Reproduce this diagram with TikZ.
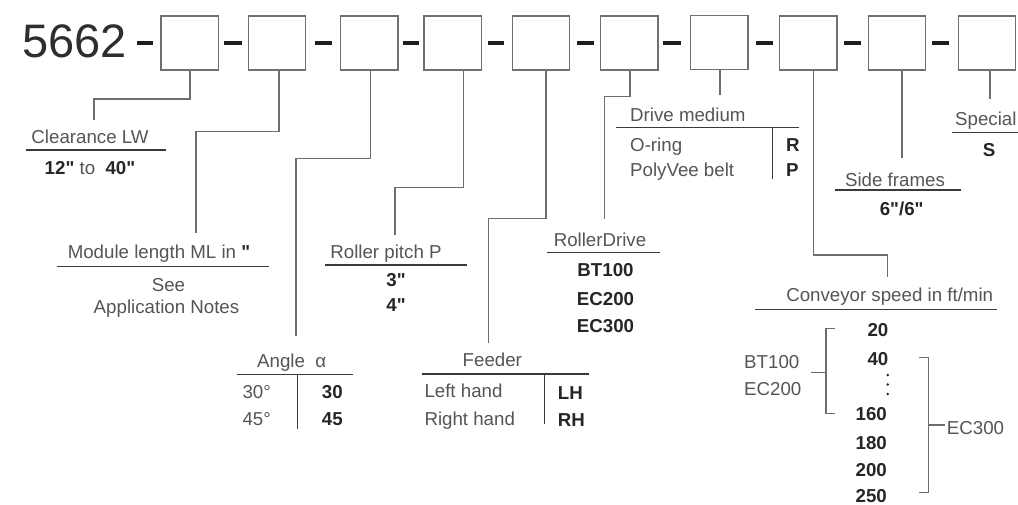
\documentclass[tikz,border=0pt]{standalone}
\usepackage{fontspec}
\setmainfont{Liberation Sans}[Ligatures=TeXOff]
\definecolor{labelgray}{HTML}{555555}
\definecolor{valgray}{HTML}{262626}
\definecolor{boxgray}{HTML}{707070}
\definecolor{linegray}{HTML}{6E6E6E}
\definecolor{rulegray}{HTML}{3A3A3A}
\definecolor{bargray}{HTML}{1E1E1E}
\definecolor{numgray}{HTML}{2E2E2E}
\tikzset{
  lbl/.style={font=\fontsize{18.7}{20}\selectfont, text=labelgray, inner sep=0pt, text height=13.4pt, text depth=0pt},
  val/.style={lbl, font=\fontsize{18.7}{20}\selectfont\bfseries, text=valgray},
  codebox/.style={draw=boxgray, line width=1.3pt, minimum width=57.3pt, minimum height=54pt, inner sep=0pt},
  sepbar/.style={draw=bargray, line width=4pt},
  conn/.style={draw=linegray, line width=1.2pt},
  rulel/.style={draw=rulegray, line width=1.1pt},
  brk/.style={draw=linegray, line width=1.1pt}
}
\begin{document}
\begin{tikzpicture}[x=1pt,y=-1pt]
\useasboundingbox (0,0) rectangle (1018,504);
\fill[white] (0,0) rectangle (1018,504);

% code
\node[font=\fontsize{47}{50}\selectfont, text=numgray, inner sep=0pt, text height=33.7pt, text depth=0pt] (code) at (74.7,41) {5662};

% boxes
\node[codebox] (b1) at (189.5,43) {};
\node[codebox] (b2) at (276.9,43) {};
\node[codebox] (b3) at (369.2,43) {};
\node[codebox] (b4) at (452.5,43) {};
\node[codebox] (b5) at (541,43) {};
\node[codebox] (b6) at (629.3,43) {};
\node[codebox] (b7) at (719.2,42.2) {};
\node[codebox] (b8) at (808.3,43) {};
\node[codebox] (b9) at (896.8,43) {};
\node[codebox] (b10) at (986.8,43) {};

% separator bars
\foreach \a/\b in {136.7/153.3, 224/241.7, 315/331.7, 402.7/419.3, 487.7/504.3, 576.7/593.7, 663.3/680.7, 755.7/773, 844/860.7, 932/948.7}
  \draw[sepbar] (\a,43.3) -- (\b,43.3);

% free ends of connectors
\coordinate (e1) at (94,120);
\coordinate (e2) at (196,233.3);
\coordinate (e3) at (296,336);
\coordinate (e4) at (395,235);
\coordinate (e5) at (488.7,343);
\coordinate (e6) at (604.3,219.3);
\coordinate (e7) at (720,95);
\coordinate (e8) at (887.3,276.7);
\coordinate (e9) at (902,158.3);
\coordinate (e10) at (990,99.3);

% connectors
\draw[conn] ([xshift=0.5pt]b1.south) -- ([xshift=0.5pt]b1.south |- 0,99) -| (e1);
\draw[conn] ([xshift=2pt]b2.south) -- ([xshift=2pt]b2.south |- 0,131.7) -| (e2);
\draw[conn] ([xshift=1.5pt]b3.south) -- ([xshift=1.5pt]b3.south |- 0,158.3) -| (e3);
\draw[conn] ([xshift=10.8pt]b4.south) -- ([xshift=10.8pt]b4.south |- 0,187.3) -| (e4);
\draw[conn] ([xshift=5pt]b5.south) -- ([xshift=5pt]b5.south |- 0,218.3) -| (e5);
\draw[conn] ([xshift=0.7pt]b6.south) -- ([xshift=0.7pt]b6.south |- 0,96.7) -| (e6);
\draw[conn] ([xshift=0.8pt]b7.south) -- (e7);
\draw[conn] ([xshift=5.2pt]b8.south) -- ([xshift=5.2pt]b8.south |- 0,255) -| (e8);
\draw[conn] ([xshift=5.2pt]b9.south) -- (e9);
\draw[conn] ([xshift=3.2pt]b10.south) -- (e10);

% Clearance LW
\node[lbl] (clw) at (90,136.7) {Clearance LW};
\draw[rulel] (26,150) -- (166,150);
\node[lbl] (clwv) at (90,167.7) {\textbf{\color{valgray}12"} to\ \ \textbf{\color{valgray}40"}};

% Module length
\node[lbl] (ml) at (159,251.7) {Module length ML in \textbf{\color{valgray}"}};
\draw[rulel] (56.7,266.7) -- (269.3,266.7);
\node[lbl] (mlsee) at (168.5,284.3) {See};
\node[lbl] (mlapp) at (166.5,306.7) {Application Notes};

% Roller pitch
\node[lbl] (rp) at (386,251.7) {Roller pitch P};
\draw[rulel] (325,265) -- (466.7,265);
\node[val] (rp3) at (396,280) {3"};
\node[val] (rp4) at (396,305) {4"};

% Angle
\node[lbl] (ang) at (291.7,361) {Angle\ \ α};
\draw[rulel] (236.7,374.3) -- (353.3,374.3);
\draw[rulel] (297.3,374.3) -- (297.3,429.3);
\node[lbl, anchor=west] (a30) at (242.3,391.7) {30°};
\node[lbl, anchor=west] (a45) at (242.3,419) {45°};
\node[val, anchor=west] (v30) at (321.7,391.7) {30};
\node[val, anchor=west] (v45) at (321.7,419) {45};

% Feeder
\node[lbl] (fd) at (492.3,360) {Feeder};
\draw[rulel] (421.7,374) -- (589.3,374);
\draw[rulel] (544.3,374) -- (544.3,424);
\node[lbl, anchor=west] (flh) at (424.3,390.7) {Left hand};
\node[lbl, anchor=west] (frh) at (424.3,418.3) {Right hand};
\node[val, anchor=west] (vlh) at (557.7,392.3) {LH};
\node[val, anchor=west] (vrh) at (557.7,420) {RH};

% RollerDrive
\node[lbl] (rd) at (600,239.3) {RollerDrive};
\draw[rulel] (546.7,252.7) -- (660,252.7);
\node[val] (rd1) at (605.5,270) {BT100};
\node[val] (rd2) at (605.5,298.3) {EC200};
\node[val] (rd3) at (605.5,326) {EC300};

% Drive medium
\node[lbl, anchor=west] (dm) at (630,115) {Drive medium};
\draw[rulel] (616,127.3) -- (799.3,127.3);
\draw[rulel] (772.3,127.3) -- (772.3,179.3);
\node[lbl, anchor=west] (dmo) at (630,145) {O-ring};
\node[lbl, anchor=west] (dmp) at (630,170) {PolyVee belt};
\node[val, anchor=west] (dmr) at (786,145) {R};
\node[val, anchor=west] (dmpv) at (786,170) {P};

% Side frames
\node[lbl] (sf) at (895,179.3) {Side frames};
\draw[rulel] (835,190) -- (960.7,190);
\node[val] (sfv) at (901.7,208.3) {6"/6"};

% Special
\node[lbl, anchor=west] (sp) at (955,118.3) {Special};
\draw[rulel] (952.3,132.3) -- (1018,132.3);
\node[val] (spv) at (989,150) {S};

% Conveyor speed
\node[lbl] (cs) at (889.7,295) {Conveyor speed in ft/min};
\draw[rulel] (755,309.3) -- (997.3,309.3);
\node[val, anchor=east] (s20) at (888.5,330) {20};
\node[val, anchor=east] (s40) at (888.5,359) {40};
\foreach \yy in {375,384.5,394} \fill[valgray] (887.8,\yy) circle (1.4pt);
\node[val, anchor=east] (s160) at (887,414) {160};
\node[val, anchor=east] (s180) at (887,442.3) {180};
\node[val, anchor=east] (s200) at (887,469.3) {200};
\node[val, anchor=east] (s250) at (887,495.3) {250};

% left bracket
\draw[brk] (835,328.3) -- (826,328.3) -- (826,413.3) -- (835,413.3);
\draw[brk] (811,372.7) -- (826,372.7);
\node[lbl, anchor=west] (lbt) at (744,361.7) {BT100};
\node[lbl, anchor=west] (lec) at (744,388.3) {EC200};

% right bracket
\draw[brk] (919.3,357.3) -- (928.3,357.3) -- (928.3,492.7) -- (919.3,492.7);
\draw[brk] (928.3,425) -- (945,425);
\node[lbl, anchor=west] (rec) at (946.7,427.7) {EC300};
\end{tikzpicture}
\end{document}
